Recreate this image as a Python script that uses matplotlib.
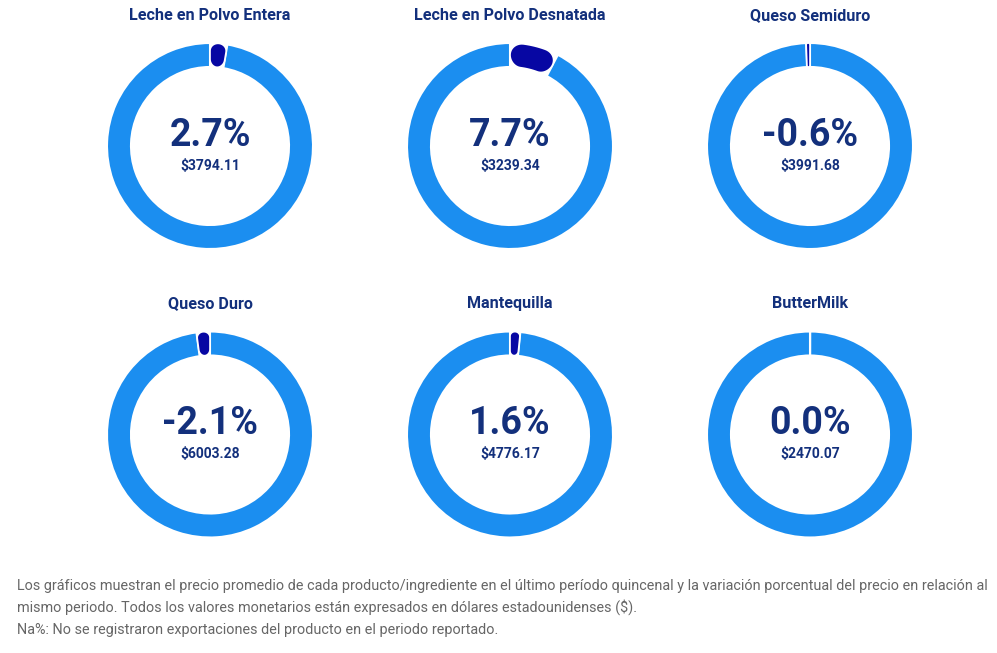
import numpy as np
import matplotlib
matplotlib.use("Agg")
import matplotlib.pyplot as plt
from matplotlib.patches import Wedge, Polygon

# datos
productos = ["Leche en Polvo Entera", "Leche en Polvo Desnatada", "Queso Semiduro",
             "Queso Duro", "Mantequilla", "ButterMilk"]
variacion = [2.7, 7.7, -0.6, -2.1, 1.6, 0.0]
precio = [3794.11, 3239.34, 3991.68, 6003.28, 4776.17, 2470.07]

nota = ["Los gráficos muestran el precio promedio de cada producto/ingrediente en el último período "
        "quincenal y la variación porcentual del precio en relación al",
        "mismo periodo. Todos los valores monetarios están expresados en dólares estadounidenses ($).",
        "Na%: No se registraron exportaciones del producto en el periodo reportado."]

azul_claro = "#1b8ef0"
azul_oscuro = "#0707a3"
texto = "#13307c"

plt.rcParams["font.family"] = ["Roboto", "DejaVu Sans"]

W, H = 997, 653
R = 103.0            # radio exterior en px
r_in = 79.0 / R      # radio interior (unidades de datos)
S = 240.0            # tamaño del eje en px
centros = [(210, 146), (510, 146), (810, 146), (210, 434.5), (510, 434.5), (810, 434.5)]


def forma_redondeada(t0, t1, ri, ro):
    # sector de anillo con esquinas redondeadas (t0 < t1, radianes)
    rm = (ri + ro) / 2
    L = (t1 - t0) * rm
    h = ro - ri
    c = min(h / 2, L / 2)
    pts = []

    def esquina(cs, ch, a0, a1):
        for a in np.linspace(a0, a1, 12):
            pts.append((cs + c * np.cos(a), ch + c * np.sin(a)))

    for s in np.linspace(c, L - c, 30):
        pts.append((s, 0))
    esquina(L - c, c, -np.pi / 2, 0)
    esquina(L - c, h - c, 0, np.pi / 2)
    for s in np.linspace(L - c, c, 30):
        pts.append((s, h))
    esquina(c, h - c, np.pi / 2, np.pi)
    esquina(c, c, np.pi, 1.5 * np.pi)
    pts = np.array(pts)
    ang = t0 + pts[:, 0] / rm
    rr = ri + pts[:, 1]
    return np.column_stack([rr * np.cos(ang), rr * np.sin(ang)])


fig = plt.figure(figsize=(W / 100, H / 100), dpi=100)

for i, (cx, cy) in enumerate(centros):
    ax = fig.add_axes([(cx - S / 2) / W, 1 - (cy + S / 2) / H, S / W, S / H])
    lim = S / 2 / R
    ax.set_xlim(-lim, lim)
    ax.set_ylim(-lim, lim)
    ax.axis("off")

    v = variacion[i]
    a = abs(v) * 3.6
    if v >= 0:
        d0, d1 = 90 - a, 90
        l0, l1 = 90, 450 - a
    else:
        d0, d1 = 90, 90 + a
        l0, l1 = 90 + a, 450
    if l1 - l0 >= 360:
        l1 = l0 + 359.9

    ax.add_patch(Wedge((0, 0), 1, l0, l1, width=1 - r_in, facecolor=azul_claro,
                       edgecolor="white", linewidth=1.5))
    if a > 0:
        xy = forma_redondeada(np.radians(d0), np.radians(d1), r_in, 1)
        ax.add_patch(Polygon(xy, closed=True, facecolor=azul_oscuro,
                             edgecolor="white", linewidth=1.2))

    ax.text(0, 0, f"{v:.1f}%", ha="center", va="baseline", fontsize=27,
            fontweight="bold", color=texto)
    ax.text(0, -23.5 / R, f"${precio[i]:.2f}", ha="center", va="baseline",
            fontsize=10, fontweight="bold", color=texto)
    ax.text(0, 126 / R, productos[i], ha="center", va="baseline",
            fontsize=11.6, fontweight="bold", color=texto)

for k, linea in enumerate(nota):
    fig.text(17 / W, 1 - (590 + 22 * k) / H, linea, ha="left", va="baseline",
             fontsize=10.35, color="#666666")

fig.savefig("out.png", dpi=100, facecolor="white")
